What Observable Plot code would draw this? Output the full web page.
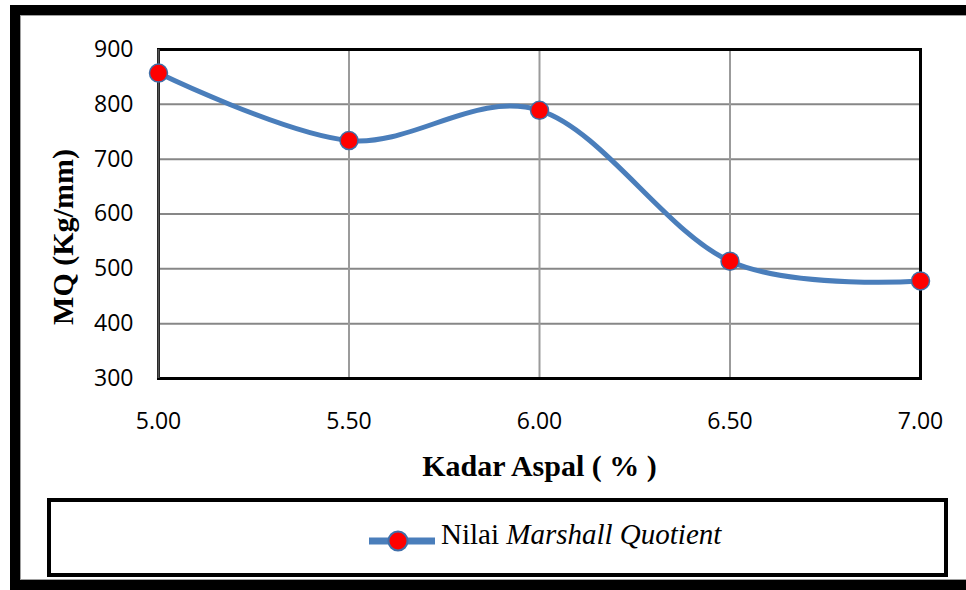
<!DOCTYPE html>
<html>
<head>
<meta charset="utf-8">
<script src="https://cdn.jsdelivr.net/npm/d3@7"></script>
<script src="https://cdn.jsdelivr.net/npm/@observablehq/plot@0.6"></script>
<style>
  html, body { margin: 0; padding: 0; background: #fff; }
  body { position: relative; width: 966px; height: 590px; overflow: hidden; }
  #chart { position: absolute; left: 0; top: 0; }
  #outer {
    position: absolute; left: 10px; top: 5px; width: 1000px; height: 585px;
    box-sizing: border-box; border: 10px solid #000;
    box-shadow: inset 0 0 0 1px #a0a0a0; pointer-events: none;
  }
  #legend {
    position: absolute; left: 47px; top: 498px; width: 901px; height: 79px;
    box-sizing: border-box; border: 4.5px solid #000; background: #fff;
  }
  #legend svg { position: absolute; left: 317px; top: 27px; }
  #legend .label {
    position: absolute; left: 390px; top: 16px; white-space: nowrap;
    font-family: "Liberation Serif", "Times New Roman", serif; font-size: 29px; color: #000;
  }
</style>
</head>
<body>
<div id="chart"></div>
<div id="legend">
  <svg width="70" height="24" viewBox="0 0 70 24">
    <line x1="1" y1="12" x2="67" y2="12" stroke="#4a7ebb" stroke-width="7"></line>
    <circle cx="30" cy="12" r="9.5" fill="#ff0000" stroke="#3f6fa9" stroke-width="2"></circle>
  </svg>
  <span class="label">Nilai <i>Marshall Quotient</i></span>
</div>
<div id="outer"></div>
<script>
// Asphalt content (%) and Marshall Quotient (kg/mm)
const kadarAspal = [5.00, 5.50, 6.00, 6.50, 7.00];
const nilaiMQ = [857, 734, 789, 514, 478];
const xTicks = [5.00, 5.50, 6.00, 6.50, 7.00];
const yTicks = [300, 400, 500, 600, 700, 800, 900];
const xTitle = "Kadar Aspal ( % )";
const yTitle = "MQ (Kg/mm)";

const rows = kadarAspal.map((k, i) => ({kadar: k, mq: nilaiMQ[i]}));

const blue = "#4a7ebb";
const tickFont = "'Open Sans', sans-serif";
const titleFont = "'Liberation Serif', serif";

const chart = Plot.plot({
  width: 966,
  height: 490,
  marginLeft: 158,
  marginRight: 46,
  marginTop: 49,
  marginBottom: 112,
  style: {background: "transparent", fontFamily: tickFont, fontSize: "23px", color: "#000", overflow: "visible"},
  x: {domain: [5, 7]},
  y: {domain: [300, 900]},
  marks: [
    Plot.gridY(yTicks.slice(1, -1), {stroke: "#878787", strokeOpacity: 1, strokeWidth: 2}),
    Plot.gridX(xTicks.slice(1, -1), {stroke: "#9b9b9b", strokeOpacity: 1, strokeWidth: 2}),
    Plot.frame({stroke: "#000", strokeWidth: 3}),
    Plot.ruleX([5], {stroke: "#555", strokeWidth: 2}),
    Plot.axisY(yTicks, {tickSize: 0, tickPadding: 25, label: null, fontSize: 23, fontFamily: tickFont}),
    Plot.axisX(xTicks, {tickSize: 0, tickPadding: 34, tickFormat: ".2f", label: null, fontSize: 23, fontFamily: tickFont}),
    Plot.text([yTitle], {frameAnchor: "left", textAnchor: "middle", lineAnchor: "middle", dx: -95, dy: 23, rotate: -90, fontFamily: titleFont, fontWeight: "bold", fontSize: 30, fill: "#000"}),
    Plot.text([xTitle], {frameAnchor: "bottom", textAnchor: "middle", lineAnchor: "middle", dy: 88, fontFamily: titleFont, fontWeight: "bold", fontSize: 30, fill: "#000"}),
    Plot.line(rows, {x: "kadar", y: "mq", curve: d3.curveCardinal.tension(0), stroke: blue, strokeWidth: 5}),
    Plot.dot(rows, {x: "kadar", y: "mq", r: 9, fill: "#ff0000", stroke: "#3f6fa9", strokeWidth: 1.5})
  ]
});

document.getElementById("chart").appendChild(chart);
</script>
</body>
</html>
